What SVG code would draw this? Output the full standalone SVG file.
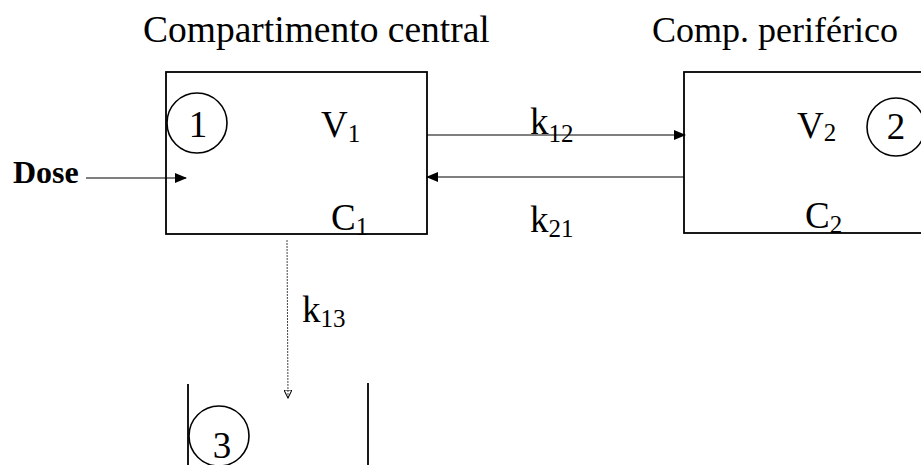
<svg xmlns="http://www.w3.org/2000/svg" width="921" height="465" viewBox="0 0 921 465">
<defs>
<style>
text{font-family:"Liberation Serif","Times New Roman",serif;fill:#000}
.t{font-size:37px}
.s{font-size:25px}
.box{fill:none;stroke:#000;stroke-width:1.8}
.circ{fill:none;stroke:#000;stroke-width:1.6}
.con{fill:none;stroke:#000;stroke-width:1.2}
.thin{fill:none;stroke:#444;stroke-width:1;stroke-dasharray:2 1}
</style>
<marker id="ah" markerWidth="12" markerHeight="10" refX="11" refY="5" orient="auto" markerUnits="userSpaceOnUse">
<path d="M0,0 L12,5 L0,10 Z" fill="#000"/>
</marker>
<marker id="ah2" markerWidth="9" markerHeight="8" refX="8" refY="4" orient="auto" markerUnits="userSpaceOnUse">
<path d="M0,0 L8,4 L0,8 Z" fill="none" stroke="#000" stroke-width="1"/>
</marker>
</defs>
<rect width="921" height="465" fill="#fff"/>
<text x="143" y="42" style="font-size:37.5px">Compartimento central</text>
<text x="652" y="42" style="font-size:36px">Comp. periférico</text>
<g id="central">
<rect class="box" x="166" y="72" width="261" height="162"/>
<circle class="circ" cx="197" cy="123" r="30"/>
<text class="t" x="198" y="137" text-anchor="middle">1</text>
<text class="t" x="321" y="137">V<tspan class="s" dy="5">1</tspan></text>
<text class="t" x="331" y="230">C<tspan class="s" dy="5">1</tspan></text>
</g>
<g id="periferico">
<rect class="box" x="684" y="72" width="260" height="161"/>
<circle class="circ" cx="896" cy="127" r="29"/>
<text class="t" x="896" y="139" text-anchor="middle">2</text>
<text class="t" x="797" y="138">V<tspan class="s" dy="3">2</tspan></text>
<text class="t" x="805" y="228">C<tspan class="s" dy="5">2</tspan></text>
</g>
<g id="eliminacao">
<line class="box" x1="188" y1="384" x2="188" y2="465"/>
<line class="box" x1="368" y1="383" x2="368" y2="465"/>
<circle class="circ" cx="219" cy="436" r="30"/>
<text class="t" x="222" y="458" text-anchor="middle">3</text>
</g>
<g id="dose">
<text x="13" y="183" style="font-size:32px;font-weight:bold">Dose</text>
</g>
<g id="connectors">
<line class="con" x1="86" y1="178" x2="186" y2="178" marker-end="url(#ah)"/>
<line class="con" x1="427" y1="135" x2="685" y2="135" marker-end="url(#ah)"/>
<line class="con" x1="684" y1="177" x2="427" y2="177" marker-end="url(#ah)"/>
<line class="thin" x1="287" y1="240" x2="288" y2="398" marker-end="url(#ah2)"/>
<text class="t" x="530" y="134">k<tspan class="s" dy="8">12</tspan></text>
<text class="t" x="530" y="232">k<tspan class="s" dy="5">21</tspan></text>
<text class="t" x="302" y="322">k<tspan class="s" dy="5">13</tspan></text>
</g>
</svg>
